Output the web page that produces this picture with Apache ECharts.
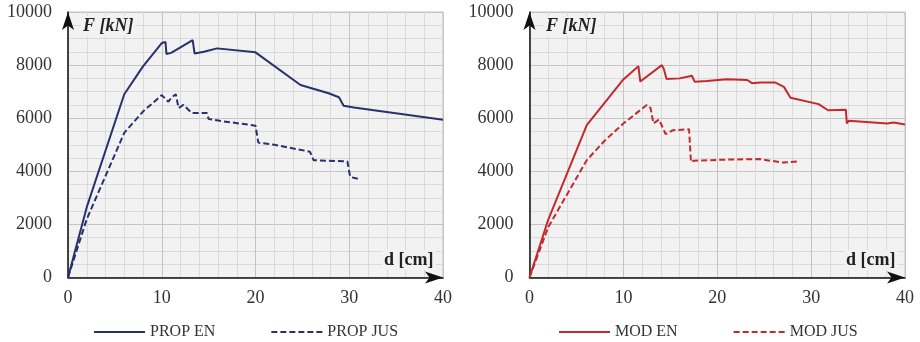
<!DOCTYPE html>
<html>
<head>
<meta charset="utf-8">
<script src="https://cdn.jsdelivr.net/npm/echarts@6/dist/echarts.min.js"></script>
<style>
  html, body { margin: 0; padding: 0; background: #fff; }
  #chart { width: 920px; height: 342px; }
</style>
</head>
<body>
<div id="chart"></div>
<script>
// displacement d [cm] and force F [kN]
const propEnD = [0, 2, 6, 8, 10, 10.4, 10.5, 11.0, 13.3, 13.5, 14.5, 15.9, 20.0, 24.8, 27.8, 28.9, 29.4, 30.5, 40]
const propEnF = [0, 2650, 6900, 7950, 8830, 8870, 8420, 8460, 8940, 8440, 8500, 8630, 8480, 7250, 6940, 6790, 6470, 6400, 5940]

const propJusD = [0, 2, 6, 8, 10, 10.7, 11.1, 11.5, 11.8, 12.3, 13.2, 14.8, 15.0, 16.2, 20.0, 20.3, 22.0, 25.8, 26.2, 29.8, 30.1, 31.2]
const propJusF = [0, 2200, 5450, 6250, 6870, 6620, 6800, 6900, 6380, 6500, 6200, 6200, 5970, 5900, 5720, 5080, 5000, 4740, 4420, 4370, 3790, 3690]

const modEnD = [0, 2, 6.1, 10, 11.6, 11.8, 14.1, 14.3, 14.6, 16.0, 17.3, 17.6, 18.9, 21.0, 23.2, 23.7, 24.6, 26.2, 27.1, 27.8, 30.8, 31.8, 33.7, 33.8, 34.0, 38.1, 38.8, 40]
const modEnF = [0, 2180, 5740, 7460, 7960, 7380, 8000, 7860, 7480, 7500, 7600, 7370, 7400, 7470, 7440, 7320, 7340, 7340, 7180, 6770, 6530, 6300, 6320, 5800, 5900, 5800, 5840, 5760]

const modJusD = [0, 2, 6.1, 8, 10, 12.5, 12.9, 13.2, 13.8, 14.5, 15.3, 17.0, 17.2, 17.5, 21.0, 24.5, 27.0, 28.5]
const modJusF = [0, 1900, 4420, 5150, 5800, 6500, 6380, 5800, 5950, 5400, 5550, 5580, 4350, 4400, 4440, 4460, 4330, 4370]

const xTicks = [0, 10, 20, 30, 40]
const yTicks = [0, 2000, 4000, 6000, 8000, 10000]

const navy = '#29316d'
const red = '#c4292e'
const serif = 'Liberation Serif'

const zip = (xs, ys) => xs.map((x, i) => [x, ys[i]])

const grids = [
  { left: 68, top: 12, width: 375, height: 265.5 },
  { left: 529.5, top: 12, width: 375.5, height: 265.5 },
]

const arrowLine = {
  show: true,
  onZero: false,
  symbol: ['none', 'arrow'],
  symbolSize: [9, 18],
  lineStyle: { color: '#111', width: 1.5 },
}

const makeX = (i) => ({
  type: 'value',
  gridIndex: i,
  min: xTicks[0],
  max: xTicks[xTicks.length - 1],
  interval: 10,
  axisLine: arrowLine,
  axisTick: { show: false },
  axisLabel: { fontFamily: serif, fontSize: 18, color: '#333', margin: 12, formatter: v => String(v) },
  splitLine: { show: true, lineStyle: { color: '#c4c4c4', width: 1 } },
  minorTick: { show: false, splitNumber: 5 },
  minorSplitLine: { show: true, lineStyle: { color: '#dadada', width: 1 } },
})

const makeY = (i) => ({
  type: 'value',
  gridIndex: i,
  min: yTicks[0],
  max: yTicks[yTicks.length - 1],
  interval: 2000,
  axisLine: arrowLine,
  axisTick: { show: false },
  axisLabel: { fontFamily: serif, fontSize: 18, color: '#333', margin: 16, formatter: v => String(v) },
  splitLine: { show: true, lineStyle: { color: '#c4c4c4', width: 1 } },
  minorTick: { show: false, splitNumber: 4 },
  minorSplitLine: { show: true, lineStyle: { color: '#dadada', width: 1 } },
})

const line = (name, data, idx, color, type) => ({
  name,
  type: 'line',
  xAxisIndex: idx,
  yAxisIndex: idx,
  data,
  symbol: 'none',
  color,
  lineStyle: { color, width: 2, type },
})

const legendStyle = (left, data) => ({
  data,
  left,
  top: 319,
  itemWidth: 51,
  itemHeight: 16,
  itemGap: 55,
  itemStyle: { opacity: 0 },
  textStyle: { fontFamily: serif, fontSize: 16, color: '#333' },
})

const label = (text, left, top, italic) => ({
  type: 'text',
  left,
  top,
  z: 100,
  silent: true,
  style: {
    text,
    fontFamily: serif,
    fontSize: 18,
    fontWeight: 'bold',
    fontStyle: italic ? 'italic' : 'normal',
    fill: '#222',
    backgroundColor: '#f2f2f2',
    padding: [1, 2],
  },
})

const chart = echarts.init(document.getElementById('chart'))
chart.setOption({
  backgroundColor: '#fff',
  animation: false,
  grid: grids.map(g => ({ ...g, show: true, backgroundColor: '#f2f2f2', borderColor: '#c4c4c4', borderWidth: 1 })),
  xAxis: [makeX(0), makeX(1)],
  yAxis: [makeY(0), makeY(1)],
  legend: [
    legendStyle(88, ['PROP EN', 'PROP JUS']),
    legendStyle(553, ['MOD EN', 'MOD JUS']),
  ],
  graphic: [
    label('F [kN]', 81, 16, true),
    label('d [cm]', 382, 250, false),
    label('F [kN]', 544, 16, true),
    label('d [cm]', 844, 250, false),
  ],
  series: [
    line('PROP EN', zip(propEnD, propEnF), 0, navy, 'solid'),
    line('PROP JUS', zip(propJusD, propJusF), 0, navy, [6, 3]),
    line('MOD EN', zip(modEnD, modEnF), 1, red, 'solid'),
    line('MOD JUS', zip(modJusD, modJusF), 1, red, [6, 3]),
  ],
})
</script>
</body>
</html>
